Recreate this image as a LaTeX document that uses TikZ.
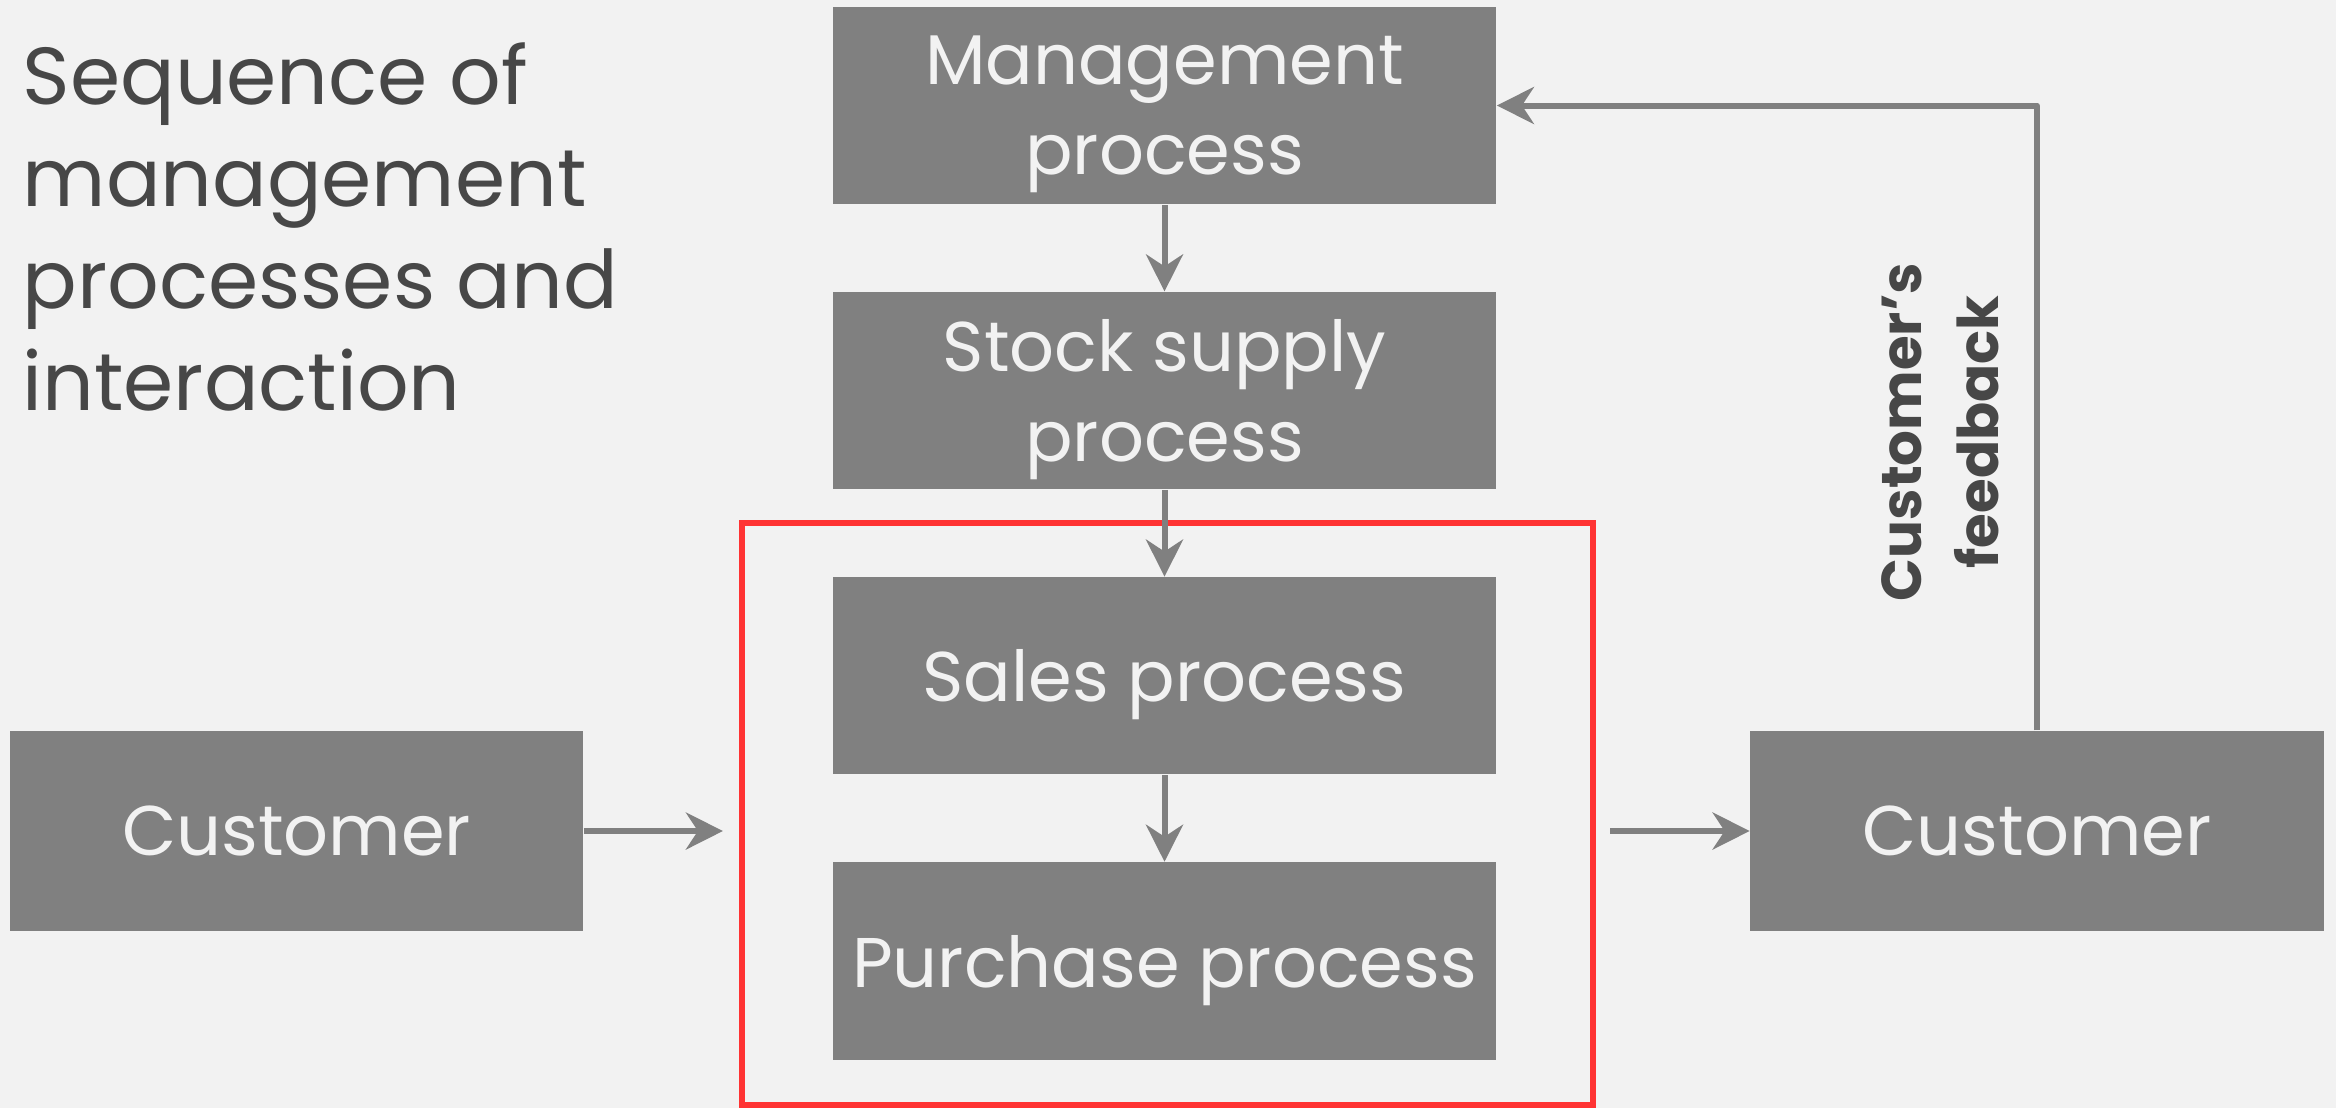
\documentclass[tikz,border=0pt]{standalone}
\usepackage{fontspec}
\setmainfont{Poppins}
\usetikzlibrary{arrows.meta,positioning}
\definecolor{bg}{HTML}{F2F2F2}
\definecolor{boxgray}{HTML}{808080}
\definecolor{txtdark}{HTML}{474747}
\definecolor{frred}{HTML}{FF3333}

\begin{document}
\begin{tikzpicture}[x=0.01cm,y=-0.01cm,
  proc/.style = {fill=boxgray, text=bg, minimum width=6.63cm, minimum height=1.97cm, inner sep=0pt, text depth=0pt, align=center, font=\fontsize{20}{25.6}\selectfont},
  cust/.style = {proc, minimum width=5.73cm, minimum height=2cm},
  flow/.style = {draw=boxgray, line width=1.7pt, line join=round, -{Stealth[length=0.37cm,width=0.37cm,inset=0.12cm]}},
  node distance={2.85cm}]
\useasboundingbox (0,0) rectangle (2336,1108);
\fill[bg] (0,0) rectangle (2336,1108);
\node[align=left, anchor=base west, inner sep=0pt, text=txtdark, font=\fontsize{23}{29}\selectfont] (0) at (22,410) {Sequence of\\management\\processes and\\interaction};
\node[proc] (1) at (1164.5,105.5) {Management\\process};
\node[proc] (2) [below of=1] {Stock supply\\process};
\node[proc] (3) [below of=2] {Sales process};
\node[proc] (4) [below of=3] {Purchase process};
\node[cust] (5) at (296.5,831) {Customer};
\node[cust] (6) at (2037,831) {Customer};
\node[draw=frred, line width=1.6pt, minimum width=8.51cm, minimum height=5.82cm] (7) at (1167.5,814) {};
\node[rotate=90, align=center, text=txtdark, font=\bfseries\fontsize{16}{22}\selectfont] (8) at (1940,432) {Customer’s\\feedback};
\draw[flow] (1) -- (2);
\draw[flow] (2) -- (3);
\draw[flow] (3) -- (4);
\draw[flow, shorten >=0.16cm] (5) -- (5 -| 7.west);
\draw[flow, shorten <=0.14cm] (6 -| 7.east) -- (6);
\draw[flow] (6.north) |- (1.east);
\end{tikzpicture}
\end{document}
